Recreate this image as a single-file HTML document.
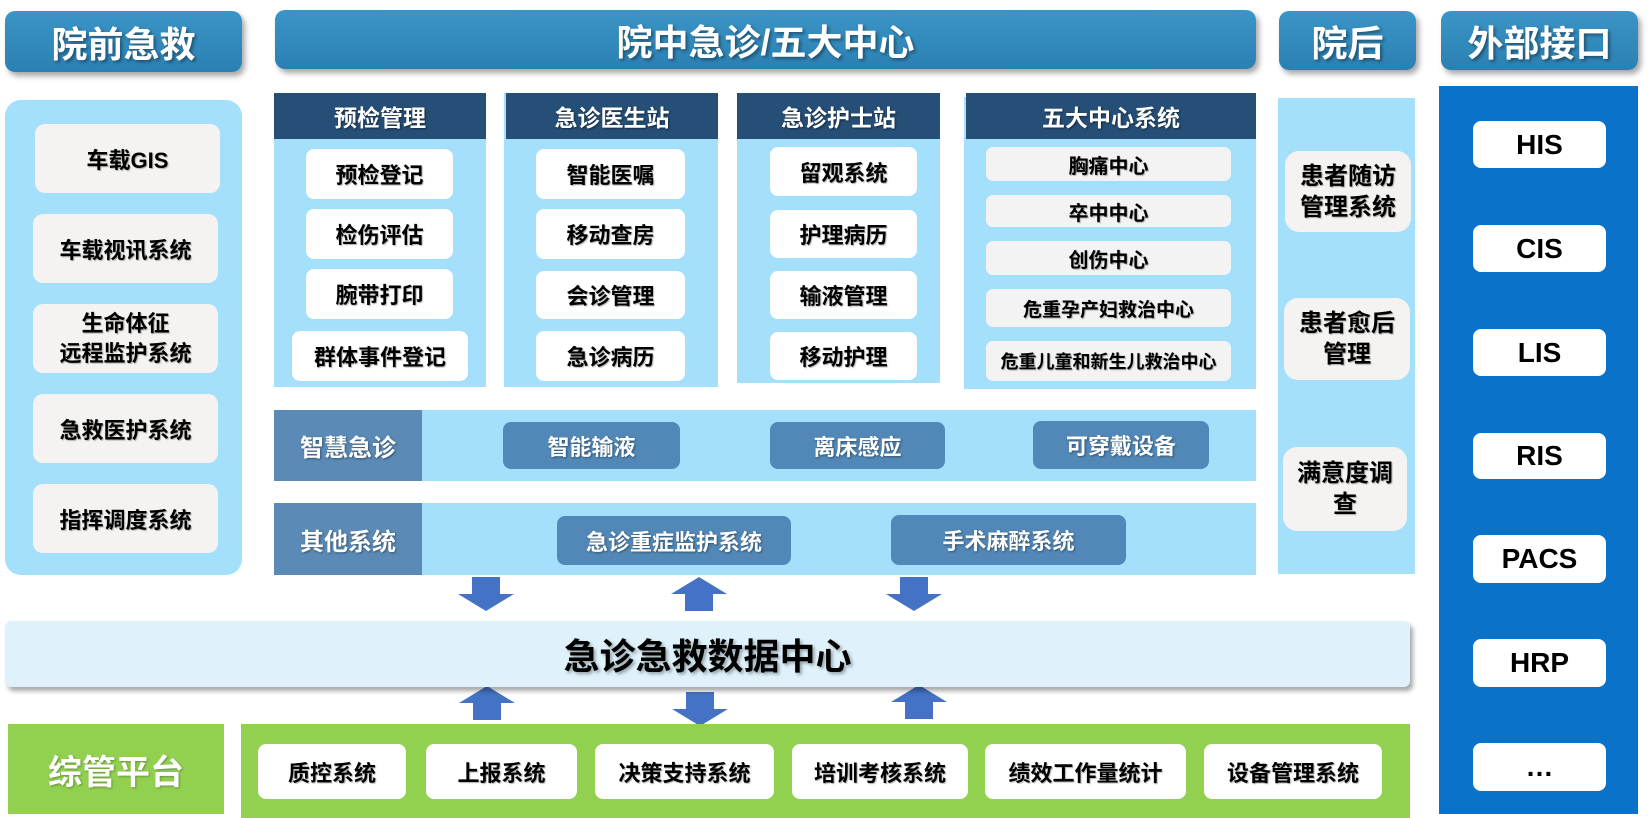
<!DOCTYPE html>
<html><head><meta charset="utf-8"><style>
*{margin:0;padding:0;box-sizing:border-box}
body{width:1648px;height:818px;background:#fff;position:relative;overflow:hidden;font-family:"Liberation Sans","Noto Sans CJK SC",sans-serif;font-weight:bold}
div{position:absolute}
.c{display:flex;align-items:center;justify-content:center;text-align:center}
.hd{background:linear-gradient(#3b95c6,#2b80b3);border-radius:10px;color:#fff;font-size:36px;box-shadow:3px 4px 6px rgba(0,0,0,.35);text-shadow:2px 2px 3px rgba(0,0,0,.4)}
.lb{background:#a4dffc}
.g{background:#f4f3f1;border-radius:10px;font-size:22px;color:#000;text-shadow:1px 1px 1px rgba(0,0,0,.3)}
.w{background:#fff;border-radius:8px;font-size:22px;color:#000;text-shadow:1px 1px 1px rgba(0,0,0,.3)}
.ch{background:#264f78;color:#fff;font-size:23px;text-shadow:1px 1px 2px rgba(0,0,0,.5)}
.f{background:#f3f3f3;border-radius:7px;font-size:20px;color:#000;text-shadow:1px 1px 1px rgba(0,0,0,.3)}
.bl{background:#5288b7;border-radius:8px;color:#fff;font-size:22px;text-shadow:1px 1px 2px rgba(0,0,0,.4)}
.lab{background:#5a8ab5;color:#fff;font-size:24px;text-shadow:1px 1px 2px rgba(0,0,0,.4)}
.x{background:#fff;border-radius:8px;font-size:28px;color:#000}
</style></head><body>
<div class="hd c" style="left:5px;top:11px;width:237px;height:61px">院前急救</div>
<div class="hd c" style="left:275px;top:10px;width:981px;height:59px">院中急诊/五大中心</div>
<div class="hd c" style="left:1279px;top:11px;width:137px;height:59px">院后</div>
<div class="hd c" style="left:1441px;top:11px;width:197px;height:59px">外部接口</div>

<div class="lb" style="left:5px;top:100px;width:237px;height:475px;border-radius:16px"></div>
<div class="g c" style="left:35px;top:124px;width:185px;height:69px">车载GIS</div>
<div class="g c" style="left:33px;top:214px;width:185px;height:69px">车载视讯系统</div>
<div class="g c" style="left:33px;top:304px;width:185px;height:69px;line-height:30px">生命体征<br>远程监护系统</div>
<div class="g c" style="left:33px;top:394px;width:185px;height:69px">急救医护系统</div>
<div class="g c" style="left:33px;top:484px;width:185px;height:69px">指挥调度系统</div>

<div class="lb" style="left:274px;top:93px;width:212px;height:294px"></div>
<div class="ch c" style="left:274px;top:93px;width:212px;height:46px">预检管理</div>
<div class="w c" style="left:306px;top:149px;width:147px;height:50px">预检登记</div>
<div class="w c" style="left:306px;top:209px;width:147px;height:50px">检伤评估</div>
<div class="w c" style="left:306px;top:269px;width:147px;height:50px">腕带打印</div>
<div class="w c" style="left:292px;top:331px;width:176px;height:50px">群体事件登记</div>

<div class="lb" style="left:504px;top:93px;width:214px;height:294px"></div>
<div class="ch c" style="left:506px;top:93px;width:212px;height:46px">急诊医生站</div>
<div class="w c" style="left:536px;top:149px;width:149px;height:50px">智能医嘱</div>
<div class="w c" style="left:536px;top:209px;width:149px;height:50px">移动查房</div>
<div class="w c" style="left:536px;top:271px;width:149px;height:48px">会诊管理</div>
<div class="w c" style="left:536px;top:331px;width:149px;height:50px">急诊病历</div>

<div class="lb" style="left:737px;top:93px;width:203px;height:290px"></div>
<div class="ch c" style="left:737px;top:93px;width:203px;height:46px">急诊护士站</div>
<div class="w c" style="left:770px;top:147px;width:147px;height:49px">留观系统</div>
<div class="w c" style="left:770px;top:210px;width:147px;height:48px">护理病历</div>
<div class="w c" style="left:770px;top:271px;width:147px;height:48px">输液管理</div>
<div class="w c" style="left:770px;top:332px;width:147px;height:48px">移动护理</div>

<div class="lb" style="left:964px;top:97px;width:292px;height:292px"></div>
<div class="ch c" style="left:966px;top:93px;width:290px;height:46px">五大中心系统</div>
<div class="f c" style="left:986px;top:147px;width:245px;height:34px">胸痛中心</div>
<div class="f c" style="left:986px;top:195px;width:245px;height:32px">卒中中心</div>
<div class="f c" style="left:986px;top:241px;width:245px;height:34px">创伤中心</div>
<div class="f c" style="left:986px;top:289px;width:245px;height:38px;font-size:19px">危重孕产妇救治中心</div>
<div class="f c" style="left:986px;top:341px;width:245px;height:40px;font-size:18px">危重儿童和新生儿救治中心</div>

<div class="lb" style="left:274px;top:410px;width:982px;height:71px"></div>
<div class="lab c" style="left:274px;top:410px;width:148px;height:71px">智慧急诊</div>
<div class="bl c" style="left:503px;top:422px;width:177px;height:47px">智能输液</div>
<div class="bl c" style="left:770px;top:422px;width:175px;height:47px">离床感应</div>
<div class="bl c" style="left:1033px;top:421px;width:176px;height:48px">可穿戴设备</div>

<div class="lb" style="left:274px;top:503px;width:982px;height:72px"></div>
<div class="lab c" style="left:274px;top:503px;width:148px;height:72px">其他系统</div>
<div class="bl c" style="left:557px;top:516px;width:234px;height:49px">急诊重症监护系统</div>
<div class="bl c" style="left:891px;top:515px;width:235px;height:50px">手术麻醉系统</div>

<div class="lb" style="left:1278px;top:98px;width:137px;height:476px"></div>
<div class="g c" style="left:1285px;top:151px;width:126px;height:81px;line-height:31px;font-size:24px;border-radius:14px">患者随访<br>管理系统</div>
<div class="g c" style="left:1284px;top:298px;width:126px;height:82px;line-height:31px;font-size:24px;border-radius:14px">患者愈后<br>管理</div>
<div class="g c" style="left:1283px;top:447px;width:124px;height:84px;line-height:31px;font-size:24px;border-radius:14px">满意度调<br>查</div>

<div style="left:1439px;top:86px;width:199px;height:728px;background:#0b72c9"></div>
<div class="x c" style="left:1473px;top:121px;width:133px;height:47px">HIS</div>
<div class="x c" style="left:1473px;top:225px;width:133px;height:47px">CIS</div>
<div class="x c" style="left:1473px;top:329px;width:133px;height:47px">LIS</div>
<div class="x c" style="left:1473px;top:433px;width:133px;height:46px">RIS</div>
<div class="x c" style="left:1473px;top:535px;width:133px;height:48px">PACS</div>
<div class="x c" style="left:1473px;top:639px;width:133px;height:48px">HRP</div>
<div class="x c" style="left:1473px;top:743px;width:133px;height:48px">…</div>

<svg style="position:absolute;left:0;top:0" width="1648" height="818">
<g fill="#4472c4">
<polygon points="472,577 500,577 500,594 514,594 486,611 458,594 472,594"/>
<polygon points="685,611 713,611 713,594 727,594 699,577 671,594 685,594"/>
<polygon points="900,577 928,577 928,594 942,594 914,611 886,594 900,594"/>
<polygon points="473,720 501,720 501,703 515,703 487,686 459,703 473,703"/>
<polygon points="686,692 714,692 714,709 728,709 700,726 672,709 686,709"/>
<polygon points="905,719 933,719 933,702 947,702 919,685 891,702 905,702"/>
</g></svg>

<div class="c" style="left:5px;top:621px;width:1405px;height:66px;background:#dff2fc;border-radius:6px;box-shadow:3px 4px 5px rgba(0,0,0,.35);font-size:36px;color:#000;text-shadow:2px 2px 3px rgba(0,0,0,.35)">急诊急救数据中心</div>

<div class="c" style="left:8px;top:724px;width:216px;height:90px;background:#92d050;color:#fff;font-size:34px;text-shadow:1px 1px 2px rgba(0,0,0,.3)">综管平台</div>
<div style="left:241px;top:724px;width:1169px;height:94px;background:#92d050"></div>
<div class="w c" style="left:258px;top:744px;width:148px;height:55px">质控系统</div>
<div class="w c" style="left:426px;top:744px;width:151px;height:55px">上报系统</div>
<div class="w c" style="left:595px;top:744px;width:179px;height:55px">决策支持系统</div>
<div class="w c" style="left:792px;top:744px;width:176px;height:55px">培训考核系统</div>
<div class="w c" style="left:985px;top:744px;width:201px;height:55px">绩效工作量统计</div>
<div class="w c" style="left:1204px;top:744px;width:178px;height:55px">设备管理系统</div>
</body></html>
